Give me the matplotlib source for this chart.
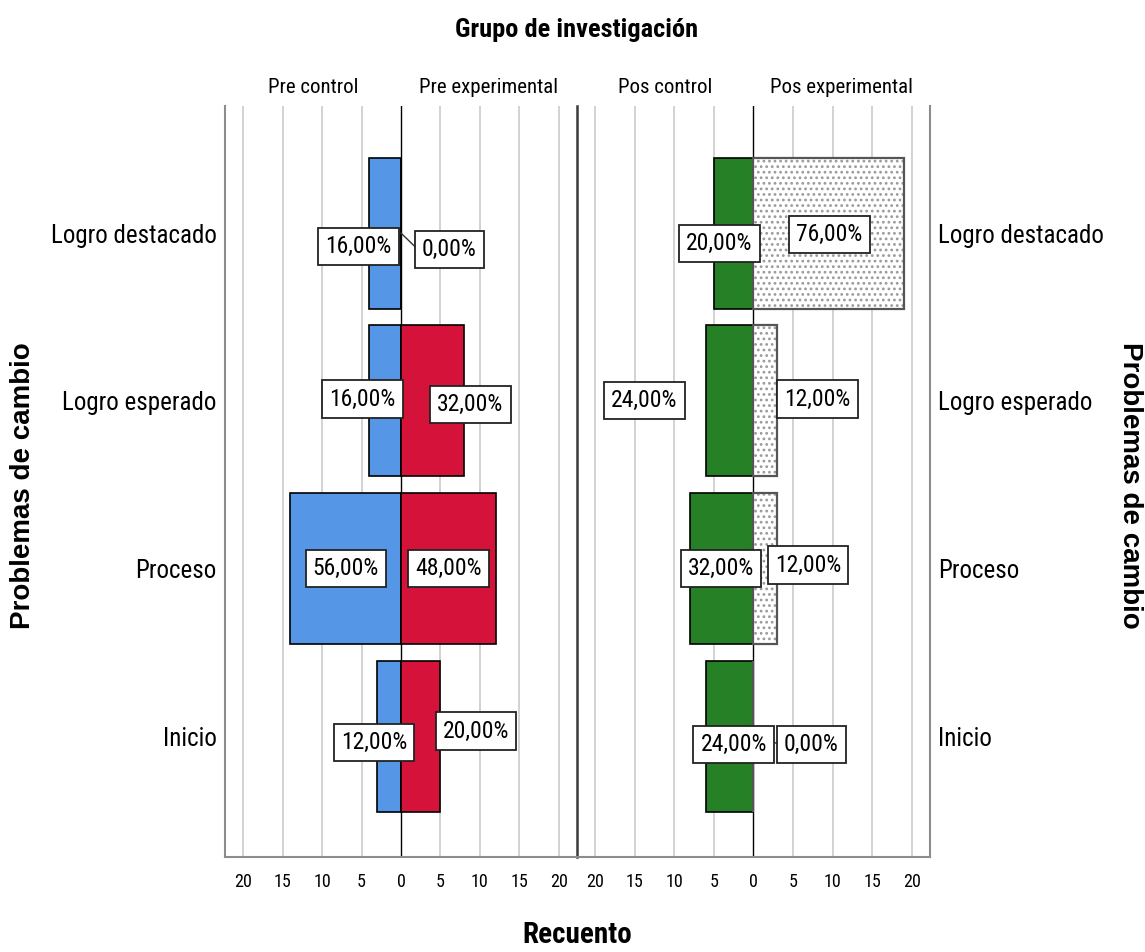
import matplotlib
matplotlib.use("Agg")
import matplotlib.pyplot as plt
from matplotlib import font_manager

# ---------------- data ----------------
categories = ["Logro destacado", "Logro esperado", "Proceso", "Inicio"]
group_labels = ["Pre control", "Pre experimental", "Pos control", "Pos experimental"]
pre_control = [4, 4, 14, 3]
pre_experimental = [0, 8, 12, 5]
pos_control = [5, 6, 8, 6]
pos_experimental = [19, 3, 3, 0]
pre_control_pct = ["16,00%", "16,00%", "56,00%", "12,00%"]
pre_experimental_pct = ["0,00%", "32,00%", "48,00%", "20,00%"]
pos_control_pct = ["20,00%", "24,00%", "32,00%", "24,00%"]
pos_experimental_pct = ["76,00%", "12,00%", "12,00%", "0,00%"]
tick_values = [-20, -15, -10, -5, 0, 5, 10, 15, 20]
tick_labels = ["20", "15", "10", "5", "0", "5", "10", "15", "20"]

# label box layout (x in data units, y offset in category units)
pre_control_lab = [(-5.4, 0.08), (-4.9, -0.01), (-7.0, 0.0), (-3.4, 0.04)]
pre_experimental_lab = [(6.1, 0.10), (8.8, 0.02), (6.0, 0.0), (9.5, -0.03)]
pos_control_lab = [(-4.3, 0.06), (-13.8, 0.0), (-4.1, 0.0), (-2.5, 0.05)]
pos_experimental_lab = [(9.6, 0.01), (8.1, -0.01), (6.9, -0.02), (7.3, 0.05)]

# ---------------- fonts ----------------
names = {f.name for f in font_manager.fontManager.ttflist}
narrow = "Roboto Condensed" if "Roboto Condensed" in names else "DejaVu Sans"
regular = "Liberation Sans" if "Liberation Sans" in names else "DejaVu Sans"
plt.rcParams["font.family"] = [narrow, "DejaVu Sans"]
plt.rcParams["hatch.linewidth"] = 1.2

blue = "#5596E6"
red = "#D5133A"
green = "#268026"
grid_c = "#CFCFCF"
frame_c = "#8C8C8C"

fig = plt.figure(figsize=(11.45, 9.52), dpi=100)
bottom, top = 0.100, 0.889
axL = fig.add_axes([0.1965, bottom, 0.5039 - 0.1965, top - bottom])
axR = fig.add_axes([0.5039, bottom, 0.8122 - 0.5039, top - bottom])

ypos = list(range(len(categories)))
bh = 0.9
XL = 22.3


def style(ax, side):
    ax.set_xlim(-XL, XL)
    ax.set_ylim(3.72, -0.76)
    for v in tick_values:
        if v == 0:
            ax.axvline(0, color="black", lw=1.0, zorder=1)
        else:
            ax.axvline(v, color=grid_c, lw=1.3, zorder=0)
    ax.set_xticks(tick_values)
    ax.set_xticklabels(tick_labels, fontsize=13)
    ax.tick_params(axis="x", length=0, pad=12)
    ax.spines["top"].set_visible(False)
    ax.spines["bottom"].set_color(frame_c)
    ax.spines["bottom"].set_linewidth(1.5)
    ax.set_yticks(ypos)
    ax.set_yticklabels(categories, fontsize=18)
    ax.tick_params(axis="y", length=0, pad=6)
    if side == "L":
        ax.spines["left"].set_color(frame_c)
        ax.spines["left"].set_linewidth(1.5)
        ax.spines["right"].set_visible(False)
    else:
        ax.spines["left"].set_color("#3A3A3A")
        ax.spines["left"].set_linewidth(1.8)
        ax.spines["right"].set_color(frame_c)
        ax.spines["right"].set_linewidth(1.5)
        ax.yaxis.tick_right()


style(axL, "L")
style(axR, "R")

# bars
axL.barh(ypos, [-v for v in pre_control], height=bh, color=blue, edgecolor="black", lw=1.2, zorder=2)
axL.barh(ypos, pre_experimental, height=bh, color=red, edgecolor="black", lw=1.2, zorder=2)
axR.barh(ypos, [-v for v in pos_control], height=bh, color=green, edgecolor="black", lw=1.2, zorder=2)
axR.barh(ypos, pos_experimental, height=bh, color="white", edgecolor="#9A9A9A", hatch="...", lw=0, zorder=2)
axR.barh(ypos, pos_experimental, height=bh, fill=False, edgecolor="#555555", lw=1.6, zorder=2)

box = dict(boxstyle="square,pad=0.3", fc="white", ec="#222222", lw=1.3)


def labels(ax, values, texts, lay):
    for i, (v, t, (lx, dy)) in enumerate(zip(values, texts, lay)):
        ax.text(lx, i + dy, t, ha="center", va="center", fontsize=17, bbox=box, zorder=5)
        if v == 0:
            sgn = 1 if lx > 0 else -1
            ax.plot([0, lx - sgn * 3.9], [i, i + dy], color="#333333", lw=1.0, zorder=4)


labels(axL, pre_control, pre_control_pct, pre_control_lab)
labels(axL, pre_experimental, pre_experimental_pct, pre_experimental_lab)
labels(axR, pos_control, pos_control_pct, pos_control_lab)
labels(axR, pos_experimental, pos_experimental_pct, pos_experimental_lab)

# group headers
for ax, (lt, rt) in ((axL, group_labels[:2]), (axR, group_labels[2:])):
    ax.text(0.25, 1.024, lt, transform=ax.transAxes, ha="center", va="center", fontsize=15)
    ax.text(0.75, 1.024, rt, transform=ax.transAxes, ha="center", va="center", fontsize=15)

fig.text(0.5039, 0.968, "Grupo de investigación", ha="center", va="center", fontsize=19, fontweight="bold")
fig.text(0.5039, 0.018, "Recuento", ha="center", va="center", fontsize=21, fontweight="bold")
fig.text(0.020, 0.49, "Problemas de cambio", rotation=90, ha="center", va="center",
         fontsize=20, fontweight="bold", family=regular)
fig.text(0.987, 0.49, "Problemas de cambio", rotation=270, ha="center", va="center",
         fontsize=20, fontweight="bold", family=regular)

fig.savefig("out.png", dpi=100)
